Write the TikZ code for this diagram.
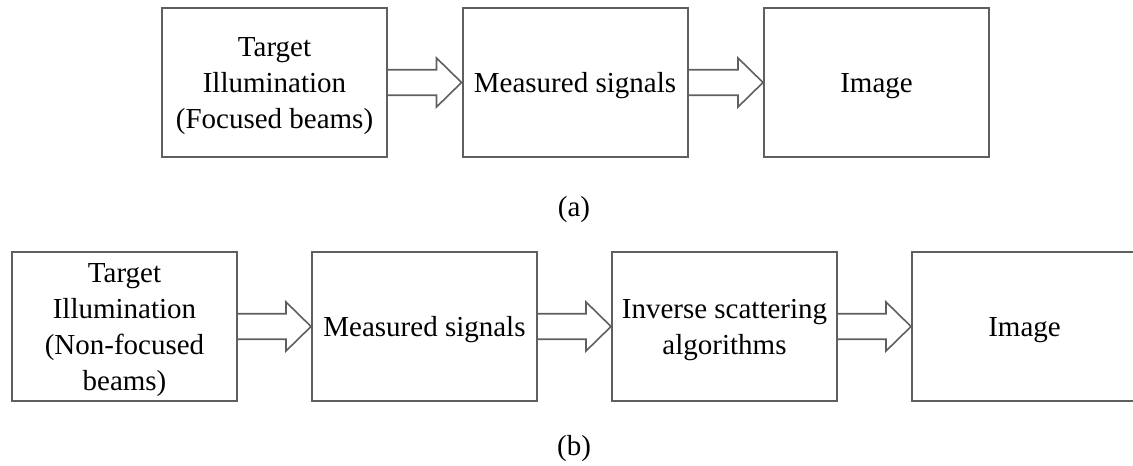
\documentclass[tikz,border=0pt]{standalone}
\usepackage{fontspec}
\setmainfont{Liberation Serif}
\usetikzlibrary{calc}
\definecolor{boxline}{RGB}{95,95,95}
\tikzset{
  blockbox/.style={draw=boxline, line width=1pt, minimum width=112.5pt, minimum height=74.5pt,
    inner sep=0pt},
  boxtext/.style={align=center, font=\fontsize{14.5}{18}\selectfont, inner sep=0pt, yshift=-1.75pt},
  caplabel/.style={font=\fontsize{14.5}{18}\selectfont, inner sep=0pt, yshift=-1.5pt},
  fatarrow/.style={draw=boxline, line width=0.8pt, line join=miter,
    to path={($(\tikztostart)+(0,-12.75)$) -- ($(\tikztotarget)+(-25,-12.75)$)
      -- ($(\tikztotarget)+(-25,-24.5)$) -- (\tikztotarget) -- ($(\tikztotarget)+(-25,24.5)$)
      -- ($(\tikztotarget)+(-25,12.75)$) -- ($(\tikztostart)+(0,12.75)$)}}
}
\begin{document}
\begin{tikzpicture}[x=0.5pt,y=-0.5pt]
\useasboundingbox (0,0) rectangle (1133,465);
% row (a)
\node[blockbox] (a1) at (274.5,82.5) {};
\node[blockbox] (a2) at (575,82.5) {};
\node[blockbox] (a3) at (876.5,82.5) {};
\node[boxtext] (ta1) at (a1.center) {Target\\Illumination\\(Focused beams)};
\node[boxtext] (ta2) at (a2.center) {Measured signals};
\node[boxtext] (ta3) at (a3.center) {Image};
\draw[fatarrow] (a1.east) to (a2.west);
\draw[fatarrow] (a2.east) to (a3.west);
\node[caplabel] (ca) at (574,207) {(a)};
% row (b)
\node[blockbox] (b1) at (124.5,326.5) {};
\node[blockbox] (b2) at (424.5,326.5) {};
\node[blockbox] (b3) at (724.5,326.5) {};
\node[blockbox] (b4) at (1024.5,326.5) {};
\node[boxtext] (tb1) at (b1.center) {Target\\Illumination\\(Non-focused\\beams)};
\node[boxtext] (tb2) at (b2.center) {Measured signals};
\node[boxtext] (tb3) at (b3.center) {Inverse scattering\\algorithms};
\node[boxtext] (tb4) at (b4.center) {Image};
\draw[fatarrow] (b1.east) to (b2.west);
\draw[fatarrow] (b2.east) to (b3.west);
\draw[fatarrow] (b3.east) to (b4.west);
\node[caplabel] (cb) at (574,446) {(b)};
\end{tikzpicture}
\end{document}
